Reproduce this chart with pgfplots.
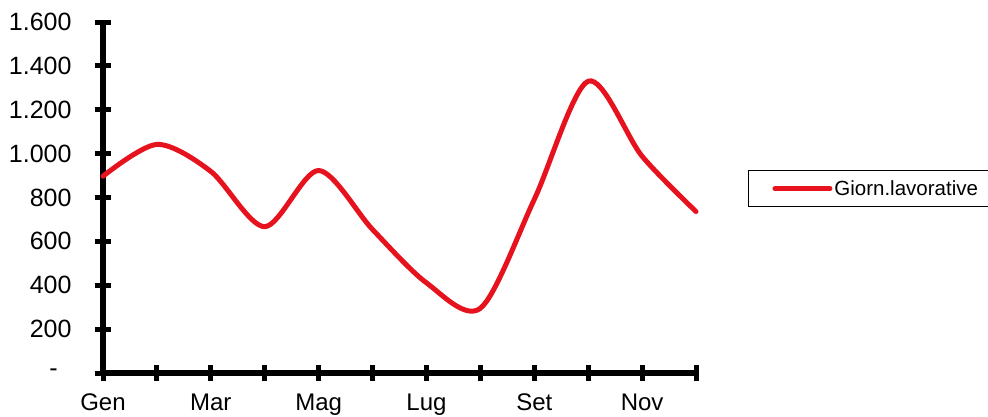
\documentclass[border=0pt]{standalone}
\usepackage{pgfplots}
\pgfplotsset{compat=1.18}
\usepackage{fontspec}
\setmainfont{Liberation Sans}
\definecolor{linered}{RGB}{230,18,30}
\begin{document}
\begin{tikzpicture}[x=1pt,y=1pt]
\path[use as bounding box] (0,0) rectangle (988,416);
\begin{axis}[
  at={(103pt,43pt)}, anchor=south west,
  scale only axis, width=593pt, height=351pt,
  xmin=0, xmax=11, ymin=0, ymax=1600,
  axis lines=left,
  x axis line style={line width=6.5pt, -},
  y axis line style={line width=6.5pt, -},
  xtick={0,...,11},
  xticklabels={Gen,,Mar,,Mag,,Lug,,Set,,Nov,},
  ytick={0,200,...,1600},
  yticklabels={{\makebox[22pt][l]{-}},200,400,600,800,1.000,1.200,1.400,1.600},
  tick align=center, major tick length=16pt,
  every tick/.style={line width=5pt, black},
  yticklabel style={font=\fontsize{25}{29}\selectfont, xshift=-20pt},
  xticklabel style={font=\fontsize{24}{28}\selectfont, yshift=-9pt},
  clip=false,
  legend style={at={(1.0877,0.578)}, anchor=north west, draw=black, line width=0.8pt,
    font=\fontsize{20.5}{24}\selectfont, inner xsep=24pt, inner ysep=7pt,
    nodes={inner xsep=2pt, inner ysep=3pt}},
  legend cell align=left,
  legend image code/.code={\draw[#1] (0pt,0pt) -- (55pt,0pt);},
]
\addplot[color=linered, line width=5pt, smooth, line cap=round] coordinates {
(0,897) (1,1042) (2,919) (3,667) (4,923) (5,654) (6,411) (7,295) (8,791) (9,1330) (10,988) (11,736)
};
\addlegendentry{Giorn.lavorative\hspace{14pt}}
\end{axis}
\end{tikzpicture}
\end{document}
